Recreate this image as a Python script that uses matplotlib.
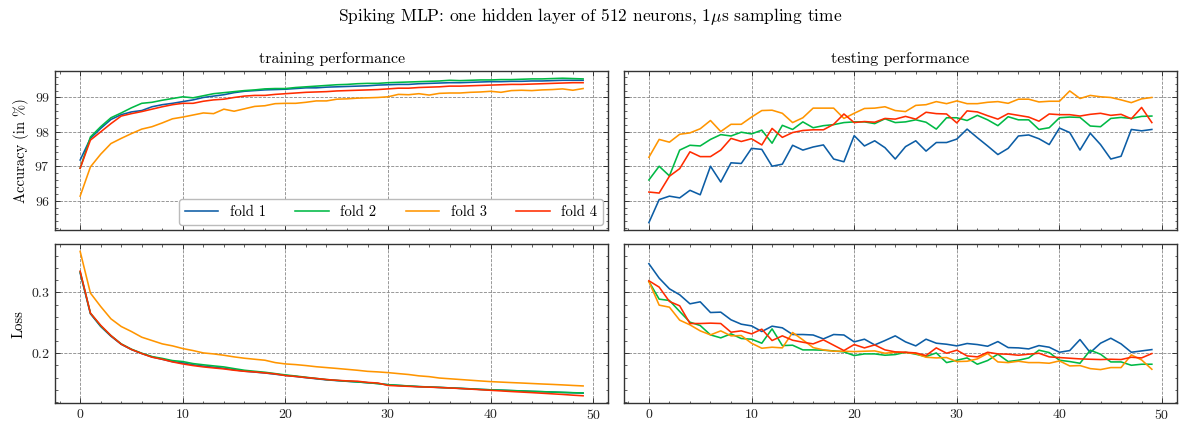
import matplotlib
matplotlib.use("Agg")
import matplotlib.pyplot as plt
from matplotlib.ticker import AutoMinorLocator
import numpy as np

epochs = list(range(50))
folds = ["fold 1", "fold 2", "fold 3", "fold 4"]
colors = ["#0C5DA5", "#00B945", "#FF9500", "#FF2C00"]

train_acc_f1 = [97.18, 97.81, 98.10, 98.36, 98.50, 98.58, 98.62, 98.73, 98.79, 98.83,
                98.88, 98.93, 99.00, 99.04, 99.08, 99.14, 99.18, 99.20, 99.22, 99.23,
                99.24, 99.26, 99.28, 99.28, 99.30, 99.31, 99.32, 99.33, 99.34, 99.36,
                99.37, 99.38, 99.38, 99.40, 99.41, 99.42, 99.43, 99.43, 99.44, 99.45,
                99.46, 99.46, 99.47, 99.47, 99.48, 99.48, 99.49, 99.50, 99.50, 99.50]
train_acc_f2 = [96.94, 97.85, 98.15, 98.41, 98.55, 98.70, 98.83, 98.86, 98.92, 98.97,
                99.02, 98.99, 99.05, 99.11, 99.14, 99.17, 99.20, 99.22, 99.25, 99.26,
                99.26, 99.29, 99.31, 99.33, 99.35, 99.37, 99.38, 99.40, 99.41, 99.41,
                99.43, 99.44, 99.45, 99.46, 99.47, 99.48, 99.50, 99.49, 99.50, 99.51,
                99.51, 99.52, 99.52, 99.53, 99.54, 99.54, 99.55, 99.56, 99.55, 99.54]
train_acc_f3 = [96.13, 96.98, 97.35, 97.66, 97.81, 97.95, 98.08, 98.15, 98.26, 98.38,
                98.43, 98.49, 98.55, 98.53, 98.66, 98.60, 98.67, 98.74, 98.76, 98.82,
                98.83, 98.83, 98.86, 98.90, 98.90, 98.95, 98.96, 98.98, 98.99, 99.00,
                99.02, 99.09, 99.08, 99.11, 99.07, 99.12, 99.13, 99.13, 99.15, 99.16,
                99.18, 99.15, 99.20, 99.21, 99.20, 99.22, 99.23, 99.25, 99.21, 99.26]
train_acc_f4 = [96.94, 97.76, 98.00, 98.24, 98.46, 98.53, 98.59, 98.66, 98.73, 98.79,
                98.83, 98.83, 98.89, 98.93, 98.95, 99.00, 99.04, 99.06, 99.06, 99.09,
                99.11, 99.13, 99.15, 99.16, 99.17, 99.19, 99.20, 99.21, 99.22, 99.23,
                99.25, 99.27, 99.27, 99.29, 99.30, 99.31, 99.33, 99.33, 99.34, 99.35,
                99.36, 99.37, 99.38, 99.38, 99.39, 99.40, 99.41, 99.42, 99.43, 99.43]

test_acc_f1 = [95.36, 96.03, 96.13, 96.08, 96.30, 96.17, 97.00, 96.54, 97.10, 97.08,
               97.52, 97.49, 97.00, 97.06, 97.61, 97.47, 97.56, 97.62, 97.21, 97.13,
               97.89, 97.59, 97.74, 97.54, 97.21, 97.57, 97.74, 97.44, 97.69, 97.69,
               97.79, 98.08, 97.83, 97.59, 97.34, 97.52, 97.88, 97.91, 97.80, 97.63,
               98.11, 97.98, 97.47, 97.96, 97.63, 97.21, 97.29, 98.07, 98.03, 98.07]
test_acc_f2 = [96.60, 97.00, 96.72, 97.47, 97.61, 97.59, 97.78, 97.92, 97.88, 97.99,
               97.94, 98.05, 97.67, 98.19, 98.07, 98.29, 98.12, 98.18, 98.21, 98.27,
               98.29, 98.29, 98.24, 98.38, 98.27, 98.29, 98.35, 98.28, 98.08, 98.41,
               98.41, 98.33, 98.48, 98.35, 98.18, 98.44, 98.35, 98.35, 98.07, 98.12,
               98.41, 98.43, 98.42, 98.17, 98.15, 98.39, 98.42, 98.39, 98.45, 98.46]
test_acc_f3 = [97.26, 97.78, 97.70, 97.93, 97.97, 98.09, 98.33, 98.01, 98.22, 98.22,
               98.43, 98.62, 98.63, 98.54, 98.27, 98.41, 98.69, 98.69, 98.69, 98.39,
               98.54, 98.68, 98.69, 98.73, 98.62, 98.59, 98.77, 98.79, 98.88, 98.82,
               98.90, 98.82, 98.82, 98.86, 98.88, 98.83, 98.95, 98.95, 98.87, 98.89,
               98.89, 99.19, 98.97, 99.06, 99.02, 99.00, 98.93, 98.85, 98.96, 99.00]
test_acc_f4 = [96.25, 96.22, 96.71, 96.93, 97.42, 97.28, 97.28, 97.47, 97.81, 97.72,
               97.80, 97.62, 98.10, 97.84, 97.98, 98.04, 98.06, 98.06, 98.22, 98.52,
               98.27, 98.30, 98.28, 98.39, 98.37, 98.45, 98.37, 98.57, 98.53, 98.52,
               98.26, 98.61, 98.58, 98.47, 98.37, 98.53, 98.48, 98.43, 98.31, 98.52,
               98.50, 98.50, 98.46, 98.51, 98.54, 98.48, 98.51, 98.38, 98.71, 98.27]

train_loss_f1 = [0.332, 0.265, 0.244, 0.228, 0.2148, 0.2060, 0.1995, 0.1940, 0.1900, 0.1862,
                 0.1840, 0.1810, 0.1788, 0.1770, 0.1752, 0.1728, 0.1705, 0.1690, 0.1675, 0.1655,
                 0.1635, 0.1618, 0.1598, 0.1580, 0.1562, 0.1550, 0.1538, 0.1528, 0.1515, 0.1502,
                 0.1482, 0.1470, 0.1460, 0.1450, 0.1444, 0.1437, 0.1430, 0.1422, 0.1414, 0.1405,
                 0.1398, 0.1392, 0.1385, 0.1379, 0.1372, 0.1367, 0.1361, 0.1355, 0.1349, 0.1344]
train_loss_f2 = [0.334, 0.266, 0.245, 0.229, 0.2154, 0.2066, 0.2000, 0.1945, 0.1915, 0.1879,
                 0.1863, 0.1830, 0.1810, 0.1792, 0.1775, 0.1747, 0.1720, 0.1703, 0.1687, 0.1665,
                 0.1643, 0.1625, 0.1605, 0.1585, 0.1567, 0.1553, 0.1540, 0.1528, 0.1515, 0.1500,
                 0.1482, 0.1472, 0.1462, 0.1452, 0.1445, 0.1438, 0.1430, 0.1422, 0.1415, 0.1405,
                 0.1398, 0.1392, 0.1386, 0.1380, 0.1373, 0.1368, 0.1362, 0.1356, 0.1351, 0.1346]
train_loss_f3 = [0.3676, 0.2990, 0.2769, 0.2566, 0.2440, 0.2357, 0.2264, 0.2209, 0.2154, 0.2121,
                 0.2077, 0.2044, 0.2005, 0.1989, 0.1967, 0.1940, 0.1918, 0.1901, 0.1885, 0.1846,
                 0.1824, 0.1813, 0.1797, 0.1778, 0.1764, 0.1750, 0.1735, 0.1720, 0.1702, 0.1693,
                 0.1681, 0.1665, 0.1650, 0.1628, 0.1615, 0.1592, 0.1580, 0.1568, 0.1556, 0.1544,
                 0.1533, 0.1525, 0.1517, 0.1510, 0.1502, 0.1494, 0.1487, 0.1479, 0.1470, 0.1462]
train_loss_f4 = [0.335, 0.266, 0.246, 0.229, 0.2150, 0.2062, 0.1995, 0.1935, 0.1901, 0.1857,
                 0.1824, 0.1797, 0.1775, 0.1758, 0.1742, 0.1720, 0.1703, 0.1692, 0.1676, 0.1660,
                 0.1632, 0.1618, 0.1600, 0.1585, 0.1567, 0.1555, 0.1545, 0.1540, 0.1520, 0.1510,
                 0.1470, 0.1462, 0.1455, 0.1448, 0.1442, 0.1436, 0.1428, 0.1420, 0.1410, 0.1400,
                 0.1390, 0.1380, 0.1370, 0.1361, 0.1352, 0.1342, 0.1332, 0.1322, 0.1310, 0.1300]

test_loss_f1 = [0.3473, 0.3236, 0.3060, 0.2962, 0.2813, 0.2846, 0.2670, 0.2676, 0.2550, 0.2478,
                0.2450, 0.2357, 0.2445, 0.2418, 0.2308, 0.2308, 0.2300, 0.2236, 0.2308, 0.2300,
                0.2187, 0.2231, 0.2137, 0.2209, 0.2286, 0.2187, 0.2121, 0.2231, 0.2165, 0.2148,
                0.2121, 0.2160, 0.2143, 0.2115, 0.2192, 0.2093, 0.2088, 0.2071, 0.2126, 0.2099,
                0.2016, 0.2044, 0.2225, 0.2011, 0.2165, 0.2247, 0.2154, 0.2016, 0.2038, 0.2060]
test_loss_f2 = [0.3180, 0.2890, 0.2868, 0.2687, 0.2511, 0.2456, 0.2302, 0.2253, 0.2319, 0.2242,
                0.2231, 0.2165, 0.2401, 0.2126, 0.2132, 0.2055, 0.2055, 0.2050, 0.2038, 0.2022,
                0.1962, 0.1989, 0.1989, 0.1967, 0.1978, 0.2016, 0.1984, 0.1945, 0.2005, 0.1846,
                0.1885, 0.1923, 0.1819, 0.1880, 0.1984, 0.1863, 0.1885, 0.1923, 0.2050, 0.2011,
                0.1885, 0.1863, 0.1835, 0.2050, 0.1984, 0.1857, 0.1857, 0.1802, 0.1819, 0.1819]
test_loss_f3 = [0.3180, 0.2791, 0.2758, 0.2544, 0.2467, 0.2368, 0.2302, 0.2368, 0.2286, 0.2291,
                0.2165, 0.2082, 0.2099, 0.2088, 0.2341, 0.2220, 0.2093, 0.2055, 0.2033, 0.2033,
                0.2027, 0.2033, 0.2038, 0.2000, 0.2016, 0.2011, 0.1995, 0.1934, 0.1923, 0.1929,
                0.1863, 0.1868, 0.1907, 0.1995, 0.1857, 0.1846, 0.1868, 0.1846, 0.1846, 0.1835,
                0.1874, 0.1791, 0.1797, 0.1747, 0.1731, 0.1764, 0.1764, 0.1973, 0.1890, 0.1736]
test_loss_f4 = [0.3192, 0.3088, 0.2852, 0.2780, 0.2489, 0.2489, 0.2495, 0.2489, 0.2346, 0.2368,
                0.2319, 0.2396, 0.2209, 0.2286, 0.2214, 0.2181, 0.2154, 0.2220, 0.2132, 0.2044,
                0.2143, 0.2088, 0.2137, 0.2055, 0.2022, 0.2016, 0.2005, 0.1962, 0.2088, 0.2000,
                0.2050, 0.1956, 0.1940, 0.2016, 0.1989, 0.1984, 0.1967, 0.1984, 0.2000, 0.1940,
                0.1929, 0.1918, 0.1907, 0.1901, 0.1896, 0.1901, 0.1896, 0.1934, 0.1923, 0.1995]

train_acc = [train_acc_f1, train_acc_f2, train_acc_f3, train_acc_f4]
test_acc = [test_acc_f1, test_acc_f2, test_acc_f3, test_acc_f4]
train_loss = [train_loss_f1, train_loss_f2, train_loss_f3, train_loss_f4]
test_loss = [test_loss_f1, test_loss_f2, test_loss_f3, test_loss_f4]

plt.rcParams.update({
    "font.family": ["cmr10", "DejaVu Serif"],
    "mathtext.fontset": "cm",
    "axes.formatter.use_mathtext": True,
    "font.size": 10,
    "axes.linewidth": 1.0,
    "axes.edgecolor": "#333333",
    "xtick.direction": "in",
    "ytick.direction": "in",
    "xtick.top": True,
    "ytick.right": True,
    "xtick.major.size": 3.5,
    "ytick.major.size": 3.5,
    "xtick.minor.size": 1.8,
    "ytick.minor.size": 1.8,
    "xtick.major.width": 0.6,
    "ytick.major.width": 0.6,
    "xtick.minor.width": 0.5,
    "ytick.minor.width": 0.5,
    "xtick.minor.visible": True,
    "ytick.minor.visible": True,
})

fig, axes = plt.subplots(2, 2, figsize=(11.8, 4.23), dpi=100, sharex=True, sharey="row")
fig.subplots_adjust(left=55/1180, right=1177/1180, top=1-71/423, bottom=1-403/423,
                    wspace=0.028, hspace=0.09)

panels = [(axes[0, 0], train_acc), (axes[0, 1], test_acc),
          (axes[1, 0], train_loss), (axes[1, 1], test_loss)]
for ax, series in panels:
    for vals, c, lab in zip(series, colors, folds):
        ax.plot(epochs, vals, color=c, lw=1.15, label=lab)
    ax.grid(True, ls="--", lw=0.6, color="#888888")
    ax.xaxis.set_minor_locator(AutoMinorLocator(5))
    ax.yaxis.set_minor_locator(AutoMinorLocator(5))
    ax.tick_params(which="both", colors="#222222", labelsize=10)

axes[0, 0].set_xticks([0, 10, 20, 30, 40, 50])
axes[0, 0].set_yticks([96, 97, 98, 99])
axes[1, 0].set_yticks([0.2, 0.3])
axes[0, 0].set_title("training performance", fontsize=11.5, pad=6)
axes[0, 1].set_title("testing performance", fontsize=11.5, pad=6)
axes[0, 0].set_ylabel("Accuracy (in %)", fontsize=10.5)
axes[1, 0].set_ylabel("Loss", fontsize=10.5)
axes[0, 0].legend(loc="lower right", ncol=4, fontsize=10.5, handlelength=2.3,
                  columnspacing=2.0, borderaxespad=0.35, fancybox=True,
                  edgecolor="#bbbbbb", framealpha=1)
fig.suptitle(r"Spiking MLP: one hidden layer of 512 neurons, $1\mu$s sampling time",
             fontsize=12.5, y=0.985)

fig.savefig("out.png", dpi=100)
